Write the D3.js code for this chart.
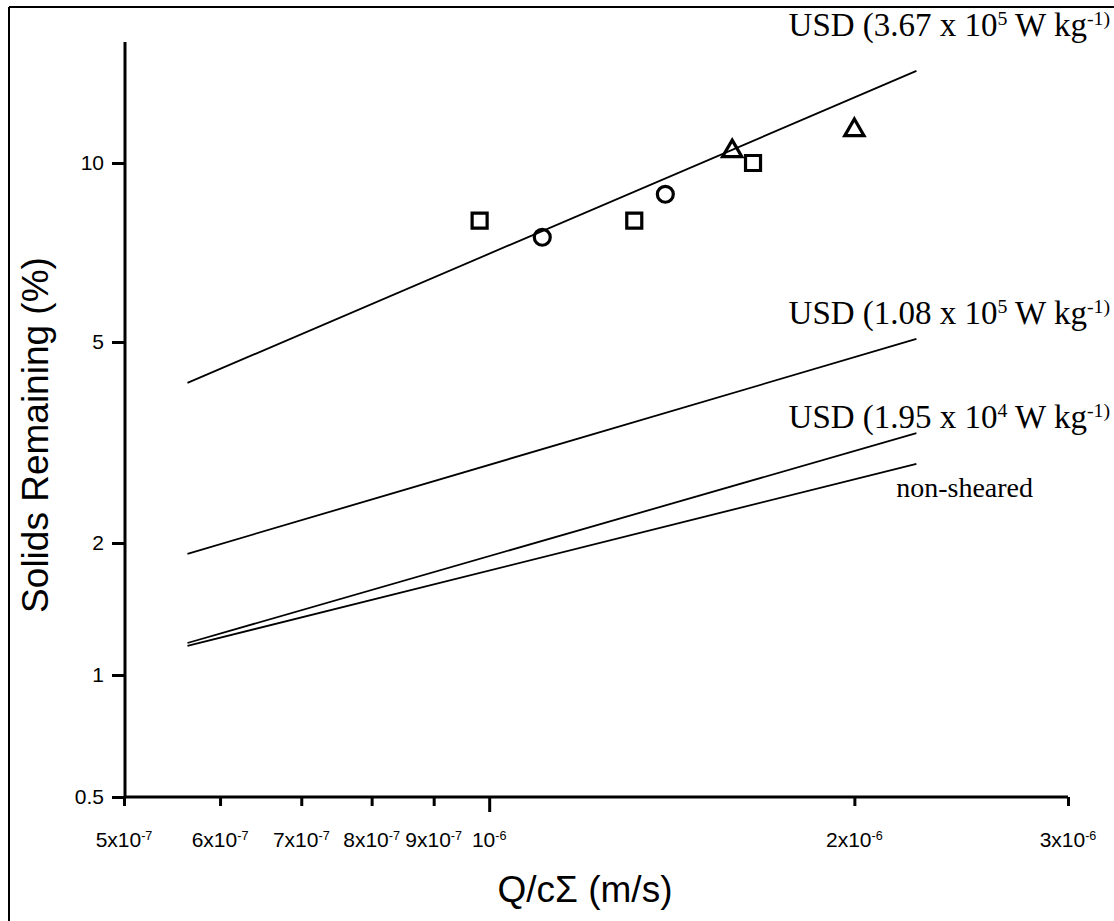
<!DOCTYPE html>
<html>
<head>
<meta charset="utf-8">
<script src="https://cdn.jsdelivr.net/npm/d3@7"></script>
<style>
  body { margin: 0; background: #fff; }
  .axis line, .axis path { stroke: #000; }
  .tickLabel { font-family: Arial, "Liberation Sans", sans-serif; font-size: 21px; fill: #000; }
  .title { font-family: Arial, "Liberation Sans", sans-serif; font-size: 37px; fill: #000; }
  .lineLabel { font-family: "Times New Roman", "Liberation Serif", serif; font-size: 33px; fill: #000; }
  .fit { fill: none; stroke: #000; stroke-width: 1.8; }
  .marker { fill: none; stroke: #000; stroke-width: 3.2; }
</style>
</head>
<body>
<div id="chart"></div>
<script>
var w = 1114;
var h = 921;

// axis ticks (x is Q/cSigma in m/s, y is solids remaining in %)
var xTicks = [5e-7, 6e-7, 7e-7, 8e-7, 9e-7, 1e-6, 2e-6, 3e-6];
var xTickLabels = ["5x10^-7", "6x10^-7", "7x10^-7", "8x10^-7", "9x10^-7", "10^-6", "2x10^-6", "3x10^-6"];
var yTicks = [0.5, 1, 2, 5, 10];
var yTickLabels = ["0.5", "1", "2", "5", "10"];
var yBreaks = [0.5, 1, 2, 5, 10, 16]; // axis is not evenly spaced, so breaks per tick

// fitted lines, value at start and end of the x range
var lineX = [5.64e-7, 2.25e-6];
var usd367 = [4.15, 14.3];
var usd108 = [1.89, 5.06];
var usd195 = [1.183, 3.30];
var nonSheared = [1.165, 2.87];
var lineNames = ["USD (3.67 x 10^5 W kg^-1)", "USD (1.08 x 10^5 W kg^-1)", "USD (1.95 x 10^4 W kg^-1)", "non-sheared"];

// measured points
var squareX = [9.82e-7, 1.317e-6, 1.65e-6];
var squareY = [8.0, 8.0, 10.0];
var circleX = [1.106e-6, 1.397e-6];
var circleY = [7.5, 8.86];
var triangleX = [1.586e-6, 2.0e-6];
var triangleY = [10.47, 11.36];

var svg = d3.select("#chart")
            .append("svg")
            .attr("width", w)
            .attr("height", h);

// frame round the figure (only top and left are visible in the scan)
svg.append("line").attr("x1", 9).attr("y1", 7).attr("x2", w).attr("y2", 7)
   .attr("stroke", "#000").attr("stroke-width", 2);
svg.append("line").attr("x1", 9).attr("y1", 7).attr("x2", 9).attr("y2", h)
   .attr("stroke", "#000").attr("stroke-width", 2);

var xScale = d3.scaleLog()
            .domain([5e-7, 3e-6])
            .range([124, 1068]);

var yScale = d3.scaleLog() //piecewise log, one segment per tick
            .domain(yBreaks)
            .range([797, 675, 543, 342, 163, 42]);

// put "a^b" into text with a superscript
function supText(sel, str) {
    var parts = str.split(/\^(\S+)/);
    for (var i = 0; i < parts.length; i++) {
        if (parts[i] === "") continue;
        var t = sel.append("tspan").text(parts[i]);
        if (i % 2 === 1) t.attr("baseline-shift", "55%").attr("font-size", "60%");
    }
}

// axes
var xAxis = d3.axisBottom(xScale).tickValues(xTicks).tickSize(9).tickFormat("");
var yAxis = d3.axisLeft(yScale).tickValues(yTicks).tickSize(13).tickFormat("");

var gx = svg.append("g")
    .attr("class", "axis")
    .attr("transform", "translate(0," + 797 + ")")
    .call(xAxis);
gx.select(".domain").attr("d", "M124,0H1068").attr("stroke-width", 3);
gx.selectAll(".tick line").attr("stroke-width", 3)
    .attr("y2", function(d){ return d === 1e-6 ? 15 : 9; });

var gy = svg.append("g")
    .attr("class", "axis")
    .attr("transform", "translate(125,0)")
    .call(yAxis);
gy.select(".domain").attr("d", "M0,42V797").attr("stroke-width", 3);
gy.selectAll(".tick line").attr("stroke-width", 3);

xTicks.forEach(function(v, i){
    var t = svg.append("text")
        .attr("class", "tickLabel")
        .attr("x", xScale(v))
        .attr("y", 847)
        .attr("text-anchor", "middle");
    supText(t, xTickLabels[i]);
});

yTicks.forEach(function(v, i){
    svg.append("text")
        .attr("class", "tickLabel")
        .attr("x", 104)
        .attr("y", yScale(v) + 7)
        .attr("text-anchor", "end")
        .text(yTickLabels[i]);
});

// axis titles
svg.append("text")
    .attr("class", "title")
    .attr("text-anchor", "middle")
    .attr("transform", "translate(48,435) rotate(-90)")
    .text("Solids Remaining (%)");

svg.append("text")
    .attr("class", "title")
    .attr("text-anchor", "middle")
    .attr("x", 585)
    .attr("y", 902)
    .text("Q/c\u03A3 (m/s)");

// fitted lines
var line = d3.line()
    .x(function(d){ return xScale(d[0]); })
    .y(function(d){ return yScale(d[1]); });

[usd367, usd108, usd195, nonSheared].forEach(function(s){
    svg.append("path")
        .datum(lineX.map(function(x, i){ return [x, s[i]]; }))
        .attr("class", "fit")
        .attr("d", line);
});

// line labels
var labelY = [36, 324, 428, 497];
lineNames.forEach(function(name, i){
    var t = svg.append("text")
        .attr("class", "lineLabel")
        .attr("x", i < 3 ? 1110 : 1033)
        .attr("y", labelY[i])
        .attr("text-anchor", "end");
    if (i === 3) t.style("font-size", "28px");
    supText(t, name);
});

// markers
function drawMarkers(xs, ys, type, size) {
    svg.selectAll(null)
        .data(xs.map(function(x, i){ return [x, ys[i]]; }))
        .enter()
        .append("path")
        .attr("class", "marker")
        .attr("transform", function(d){ return "translate(" + xScale(d[0]) + "," + yScale(d[1]) + ")"; })
        .attr("d", d3.symbol().type(type).size(size));
}
drawMarkers(squareX, squareY, d3.symbolSquare, 225);
drawMarkers(circleX, circleY, d3.symbolCircle, 200);
drawMarkers(triangleX, triangleY, d3.symbolTriangle, 160);
</script>
</body>
</html>
